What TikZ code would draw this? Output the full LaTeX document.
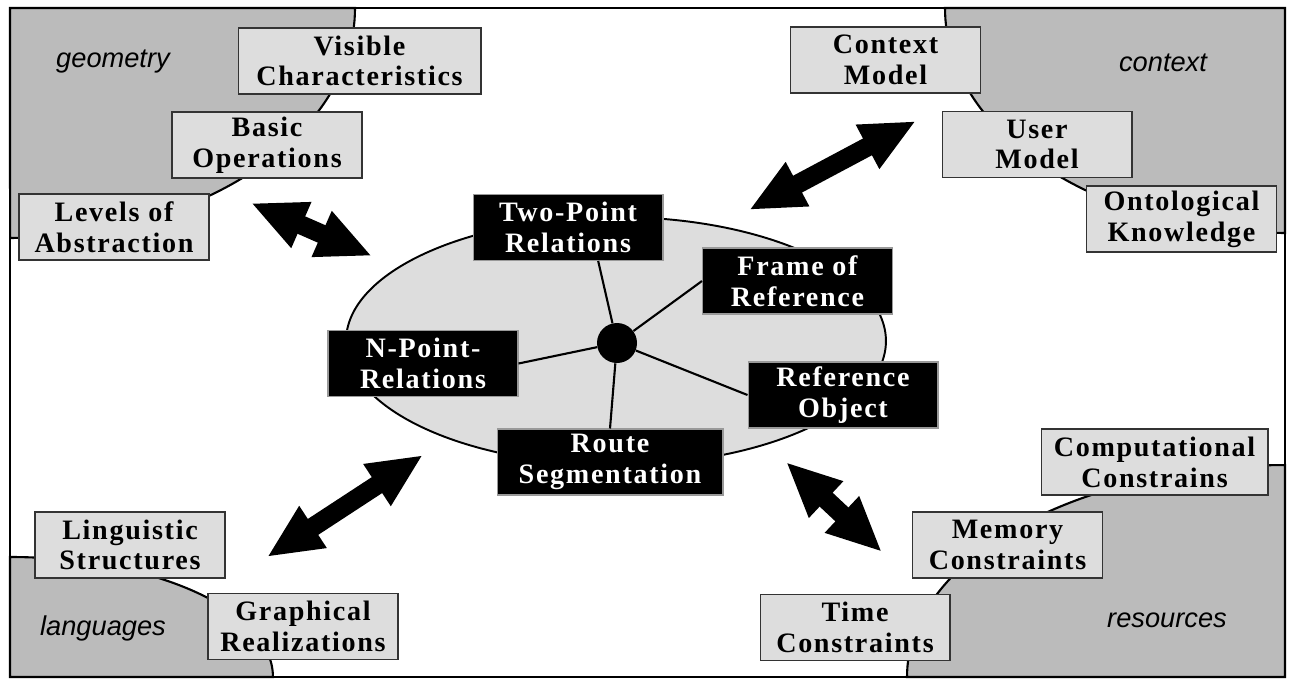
\documentclass[tikz,border=0pt]{standalone}
\usepackage{fontspec}
\usepackage{tikz}
\usetikzlibrary{arrows.meta}
\newfontfamily\boxfont[LetterSpace=6]{Liberation Serif}
\newfontfamily\regionfont{Liberation Sans}
\definecolor{regiongray}{HTML}{BBBBBB}
\definecolor{boxgray}{HTML}{DDDDDD}
\tikzstyle{lightbox} = [rectangle, draw=black!80, line width=0.6pt, fill=boxgray, minimum width=3.8cm, minimum height=1.32cm, inner sep=0pt, align=center, font=\boxfont\bfseries\fontsize{16}{17.5}\selectfont]
\tikzstyle{darkbox} = [lightbox, fill=black, draw=black!40, text=white]
\tikzstyle{region} = [fill=regiongray, draw=black, line width=1.2pt]
\tikzstyle{regionlabel} = [font=\regionfont\itshape\fontsize{15.5}{18}\selectfont]
\tikzstyle{bigarrow} = [line width=0.38cm, {Triangle[length=1.1cm,width=0.92cm]}-{Triangle[length=1.1cm,width=0.92cm]}]
\tikzstyle{spoke} = [line width=1.2pt]

\begin{document}
\begin{tikzpicture}[x=0.02cm, y=-0.02cm]
\useasboundingbox (0,0) rectangle (1290,680);

% corner regions
\draw [region] (10,8) -- (355,8) arc[start angle=0, end angle=-90, x radius=6.9cm, y radius=4.6cm] -- cycle;
\draw [region] (1285,8) -- (945,8) arc[start angle=180, end angle=270, x radius=6.8cm, y radius=4.5cm] -- cycle;
\draw [region] (10,677) -- (10,557) arc[start angle=90, end angle=0, x radius=5.26cm, y radius=2.4cm] -- cycle;
\draw [region] (1285,677) -- (907,677) arc[start angle=180, end angle=90, x radius=7.56cm, y radius=4.24cm] -- cycle;
\draw [line width=1.3pt] (10,8) rectangle (1285,677);

\node (geo)[regionlabel] at (113,62) {geometry};
\node (ctx)[regionlabel] at (1163,63) {context};
\node (lng)[regionlabel] at (103,628) {languages};
\node (res)[regionlabel] at (1167,620) {resources};

% outer boxes
\node (vischar)[lightbox, minimum width=4.86cm] at (359.5,61) {Visible\\Characteristics};
\node (basicop)[lightbox] at (267,145) {Basic\\Operations};
\node (levels)[lightbox] at (114,227) {Levels of\\Abstraction};
\node (ctxmodel)[lightbox] at (885.5,60) {Context\\Model};
\node (usermodel)[lightbox] at (1037,144.5) {User\\Model};
\node (ontology)[lightbox] at (1181.5,219) {Ontological\\Knowledge};
\node (linguistic)[lightbox] at (130,545) {Linguistic\\Structures};
\node (graphical)[lightbox] at (303,626.5) {Graphical\\Realizations};
\node (compcons)[lightbox, minimum width=4.54cm] at (1154.5,462) {Computational\\Constrains};
\node (memcons)[lightbox] at (1007.5,545) {Memory\\Constraints};
\node (timecons)[lightbox] at (855,627.5) {Time\\Constraints};

% arrows
\coordinate (geoA) at (251,203);
\coordinate (geoB) at (372,256);
\coordinate (ctxA) at (749,210);
\coordinate (ctxB) at (916,121);
\coordinate (lngA) at (267,557);
\coordinate (lngB) at (423,455);
\coordinate (resA) at (786,462);
\coordinate (resB) at (882,552);
\draw [bigarrow] (geoA) -- (geoB);
\draw [bigarrow] (ctxA) -- (ctxB);
\draw [bigarrow] (lngA) -- (lngB);
\draw [bigarrow] (resA) -- (resB);

% core
\draw [fill=boxgray, line width=1.1pt] (616,341) ellipse [x radius=5.4cm, y radius=2.48cm];
\node (hub)[circle, fill=black, minimum size=0.8cm, inner sep=0pt] at (617,343) {};

\node (twopt)[darkbox] at (568,227.5) {Two-Point\\Relations};
\node (frame)[darkbox] at (797.5,281) {Frame of\\Reference};
\node (npoint)[darkbox] at (423,363.5) {N-Point-\\Relations};
\node (refobj)[darkbox] at (843,395) {Reference\\Object};
\node (route)[darkbox, minimum width=4.52cm] at (610,462) {Route\\Segmentation};

\draw [spoke] (hub) -- (twopt.-48);
\draw [spoke] (hub) -- (frame.west);
\draw [spoke] (hub) -- (npoint.east);
\draw [spoke] (hub) -- (refobj.west);
\draw [spoke] (hub) -- (route.north);

\end{tikzpicture}
\end{document}
